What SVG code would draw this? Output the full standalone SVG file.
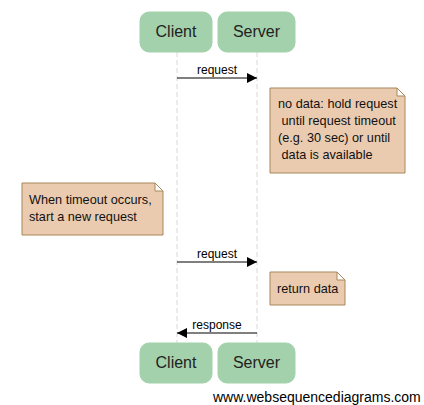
<svg xmlns="http://www.w3.org/2000/svg" width="424" height="405" viewBox="0 0 424 405">
<defs>
<style>
.actor rect{fill:#a3d1ab;stroke:#a3d1ab;}
.actor text{font-family:"Liberation Sans",Arial,sans-serif;font-size:16px;fill:#222;text-anchor:middle;}
.life{stroke:#d8d8d8;stroke-width:1;stroke-dasharray:5,3;}
.msg{stroke:#000;stroke-width:1;fill:none;}
.lbl{font-family:"Liberation Sans",Arial,sans-serif;font-size:12px;fill:#000;text-anchor:middle;}
.note path{fill:#ebcbb0;stroke:#a8875a;stroke-width:1;}
.note text{font-family:"Liberation Sans",Arial,sans-serif;font-size:12.7px;fill:#111;white-space:pre;}
.wm{font-family:"Liberation Sans",Arial,sans-serif;font-size:14px;fill:#000;}
</style>
<marker id="ah" markerWidth="10" markerHeight="10" refX="10" refY="5" orient="auto" markerUnits="userSpaceOnUse">
<path d="M0,0 L10,5 L0,10 z" fill="#000"/>
</marker>
</defs>
<rect width="424" height="405" fill="#fff"/>
<g id="lifelines">
<line class="life" x1="177" y1="52" x2="177" y2="343"/>
<line class="life" x1="257" y1="52" x2="257" y2="343"/>
</g>
<g id="client-top" class="actor"><rect x="140" y="12" width="72" height="40" rx="9"/><text x="176" y="37">Client</text></g>
<g id="server-top" class="actor"><rect x="218" y="12" width="77" height="40" rx="9"/><text x="256.5" y="37">Server</text></g>
<g id="client-bottom" class="actor"><rect x="140" y="343" width="72" height="40" rx="9"/><text x="176" y="368">Client</text></g>
<g id="server-bottom" class="actor"><rect x="218" y="343" width="77" height="40" rx="9"/><text x="256.5" y="368">Server</text></g>
<g id="connectors">
<line class="msg" x1="177" y1="78" x2="257" y2="78" marker-end="url(#ah)"/>
<text class="lbl" x="217" y="74">request</text>
<line class="msg" x1="177" y1="262" x2="257" y2="262" marker-end="url(#ah)"/>
<text class="lbl" x="217" y="258">request</text>
<line class="msg" x1="257" y1="333" x2="177" y2="333" marker-end="url(#ah)"/>
<text class="lbl" x="217" y="329">response</text>
</g>
<g id="note1" class="note">
<path d="M270,88 H397 L405,96 V173 H270 Z M397,88 V96 H405"/>
<text x="278" y="108" xml:space="preserve">no data: hold request</text>
<text x="278" y="125" xml:space="preserve"> until request timeout</text>
<text x="278" y="142" xml:space="preserve">(e.g. 30 sec) or until</text>
<text x="278" y="159" xml:space="preserve"> data is available</text>
</g>
<g id="note2" class="note">
<path d="M22,183 H155 L163,191 V235 H22 Z M155,183 V191 H163"/>
<text x="29" y="204">When timeout occurs,</text>
<text x="29" y="221">start a new request</text>
</g>
<g id="note3" class="note">
<path d="M270,272 H337 L345,280 V305 H270 Z M337,272 V280 H345"/>
<text x="277" y="293">return data</text>
</g>
<text class="wm" x="213" y="402">www.websequencediagrams.com</text>
</svg>
